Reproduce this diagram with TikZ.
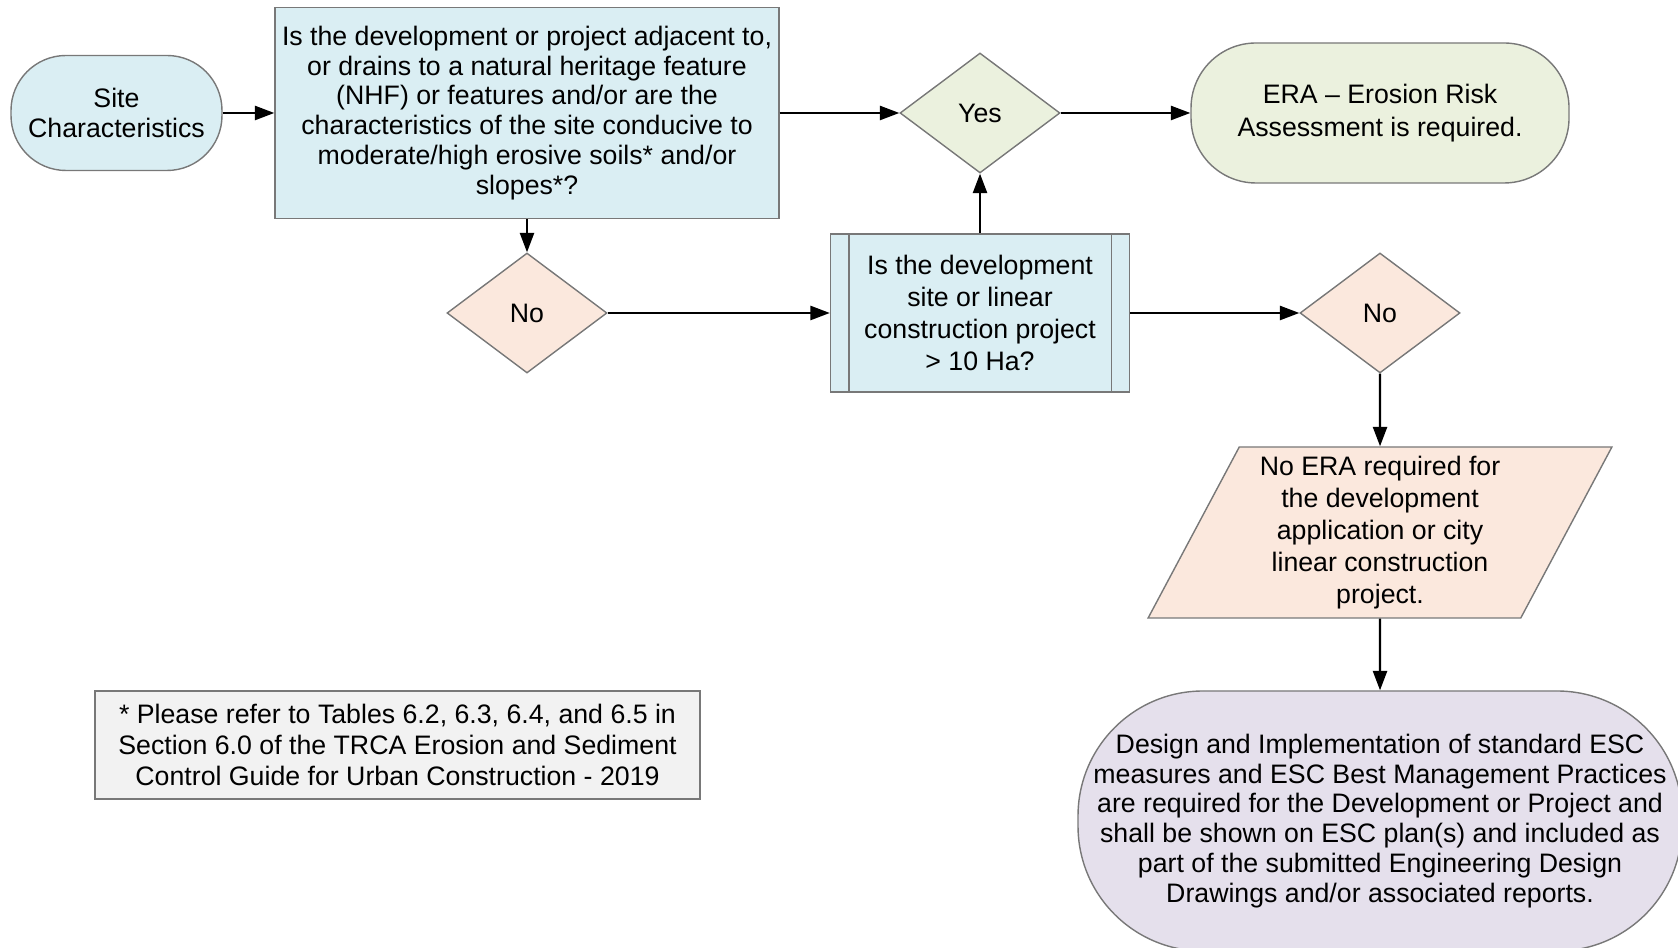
\documentclass[tikz,border=0pt]{standalone}
\usepackage{fontspec}
\setmainfont{Liberation Sans}
\usepackage{xcolor}
\usepackage{tikz}
\usetikzlibrary{
	arrows.meta,shapes.geometric
}
\definecolor{blueFill}{RGB}{218,238,243}
\definecolor{greenFill}{RGB}{235,241,222}
\definecolor{peachFill}{RGB}{251,232,221}
\definecolor{lilacFill}{RGB}{229,224,236}
\definecolor{noteFill}{RGB}{242,242,242}
\definecolor{edgeGray}{RGB}{120,120,120}

\begin{document}
\begin{tikzpicture}[
		font=\fontsize{7.6}{8.5}\selectfont,
		box/.style={draw=edgeGray,line width=0.4pt,align=center,inner sep=0pt},
		stadium/.style={box,rectangle},
		decision/.style={box,diamond,minimum width=1.6cm,minimum height=1.2cm},
	]
		\useasboundingbox (0,0) rectangle (16.78,-9.48);
		\node[stadium,fill=blueFill,rounded corners=0.55cm,minimum width=2.11cm,minimum height=1.15cm] (S) at (1.165,-1.13) {Site\\Characteristics};
		\node[box,fill=blueFill,minimum width=5.04cm,minimum height=2.11cm] (Q) at (5.27,-1.13) {Is the development or project adjacent to,\\or drains to a natural heritage feature\\(NHF) or features and/or are the\\characteristics of the site conducive to\\moderate/high erosive soils* and/or\\slopes*?};
		\node[decision,fill=greenFill] (Y) at (9.80,-1.13) {Yes};
		\node[stadium,fill=greenFill,rounded corners=0.65cm,minimum width=3.78cm,minimum height=1.40cm,font=\fontsize{7.6}{9.4}\selectfont] (E) at (13.80,-1.13) {ERA -- Erosion Risk\\Assessment is required.};
		\node[decision,fill=peachFill] (N) at (5.27,-3.13) {No};
		\node[box,fill=blueFill,minimum width=2.99cm,minimum height=1.58cm,font=\fontsize{7.6}{9.1}\selectfont] (P) at (9.80,-3.13) {Is the development\\site or linear\\construction project\\> 10 Ha?};
		\draw[edgeGray,line width=0.4pt] ([xshift=0.19cm]P.north west) -- ([xshift=0.19cm]P.south west)
			([xshift=-0.19cm]P.north east) -- ([xshift=-0.19cm]P.south east);
		\node[decision,fill=peachFill] (N') at (13.80,-3.13) {No};
		\node[box,trapezium,trapezium left angle=63,trapezium right angle=117,trapezium stretches=true,fill=peachFill,minimum width=4.64cm,minimum height=1.71cm,font=\fontsize{7.6}{9.1}\selectfont] (R) at (13.80,-5.325) {No ERA required for\\the development\\application or city\\linear construction\\project.};
		\node[stadium,fill=lilacFill,rounded corners=1.25cm,minimum width=6.04cm,minimum height=2.60cm] (D) at (13.80,-8.21) {Design and Implementation of standard ESC\\measures and ESC Best Management Practices\\are required for the Development or Project and\\shall be shown on ESC plan(s) and included as\\part of the submitted Engineering Design\\Drawings and/or associated reports.};
		\node[box,fill=noteFill,minimum width=6.05cm,minimum height=1.08cm,font=\fontsize{7.6}{8.9}\selectfont] (F) at (3.975,-7.45) {* Please refer to Tables 6.2, 6.3, 6.4, and 6.5 in\\Section 6.0 of the TRCA Erosion and Sediment\\Control Guide for Urban Construction - 2019};
		%
		\path[->,line width=0.6pt,>={Triangle[length=5.5pt,width=4pt]}]
		% horizontal arrows
		(S) edge (Q)
		(Q) edge (Y)
		(Y) edge (E)
		(N) edge (P)
		(P) edge (N')
		% vertical arrows
		(Q) edge (N)
		(P) edge (Y)
		(N') edge (R)
		(R) edge (D);
	\end{tikzpicture}
\end{document}
